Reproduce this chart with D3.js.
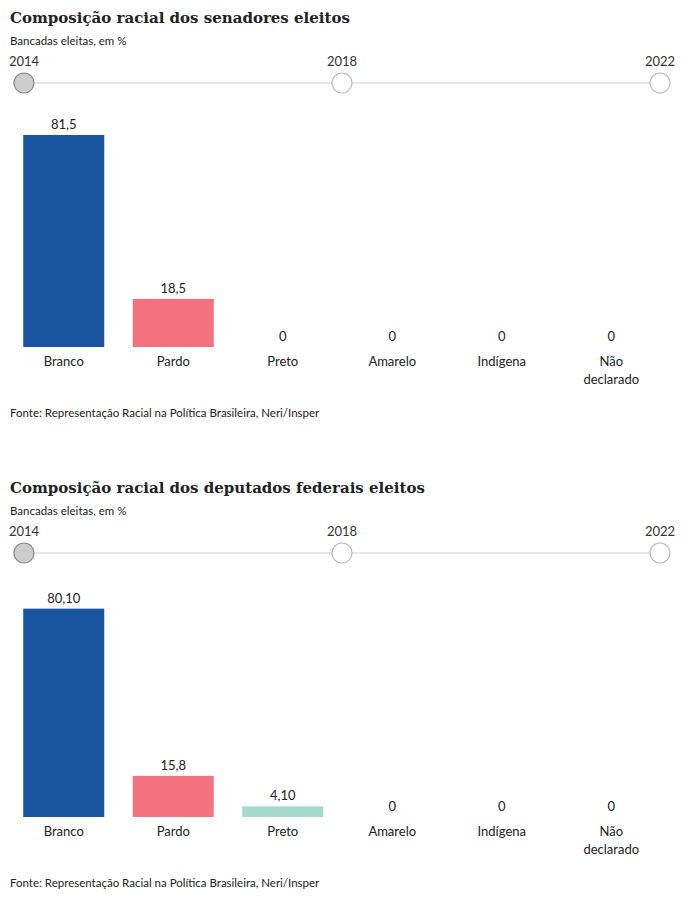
<!DOCTYPE html>
<html><head><meta charset="utf-8">
<script src="https://cdn.jsdelivr.net/npm/d3@7"></script>
<style>body{margin:0;background:#fff}</style>
</head><body>
<svg id="c" width="700" height="898"></svg>
<script>
var categories = ['Branco','Pardo','Preto','Amarelo','Indígena','Não declarado'];
var years = ['2014','2018','2022'];
var senadores = [81.5, 18.5, 0, 0, 0, 0];
var senadoresLabels = ['81,5','18,5','0','0','0','0'];
var deputados = [80.10, 15.8, 4.10, 0, 0, 0];
var deputadosLabels = ['80,10','15,8','4,10','0','0','0'];
var colors = ['#1a55a0','#f4717f','#a6d9cb','#ccc','#ccc','#ccc'];

var svg = d3.select('#c');
var font = 'Lato, "Open Sans", sans-serif';

function chart(top, title, vals, labels) {
  var g = svg.append('g').attr('transform','translate(0,'+top+')');
  g.append('text').attr('x',10).attr('y',23).text(title)
    .attr('font-family','"DejaVu Serif", serif').attr('font-weight','bold').attr('font-size',15).attr('fill','#222');
  g.append('text').attr('x',10).attr('y',45).text('Bancadas eleitas, em %')
    .attr('font-family',font).attr('font-size',11.5).attr('fill','#222');

  var tx = d3.scalePoint().domain(years).range([24,660]);
  g.append('line').attr('x1',24).attr('x2',660).attr('y1',83).attr('y2',83).attr('stroke','#ccc');
  g.selectAll('.yr').data(years).enter().append('text')
    .attr('x',function(d){return tx(d);}).attr('y',66).attr('text-anchor','middle')
    .attr('font-family',font).attr('font-size',13).attr('fill','#333').text(function(d){return d;});
  g.selectAll('.dot').data(years).enter().append('circle')
    .attr('cx',function(d){return tx(d);}).attr('cy',83).attr('r',10)
    .attr('fill',function(d,i){return i===0?'#ccc':'#fff';})
    .attr('stroke',function(d,i){return i===0?'#888':'#bbb';}).attr('stroke-width',1.2);

  var x = d3.scaleBand().domain(categories).range([9,666]).paddingInner(0.26).paddingOuter(0.13);
  var y = d3.scaleLinear().domain([0,81.5]).range([347,135]);
  g.selectAll('.bar').data(vals).enter().append('rect')
    .attr('x',function(d,i){return x(categories[i]);}).attr('width',x.bandwidth())
    .attr('y',function(d){return y(d);}).attr('height',function(d){return 347-y(d);})
    .attr('fill',function(d,i){return colors[i];});
  g.selectAll('.val').data(vals).enter().append('text')
    .attr('x',function(d,i){return x(categories[i])+x.bandwidth()/2;})
    .attr('y',function(d){return y(d)-6;}).attr('text-anchor','middle')
    .attr('font-family',font).attr('font-size',13).attr('fill','#222')
    .text(function(d,i){return labels[i];});
  categories.forEach(function(c,i){
    var t = g.append('text').attr('x',x(c)+x.bandwidth()/2).attr('y',366).attr('text-anchor','middle')
      .attr('font-family',font).attr('font-size',13).attr('fill','#222');
    var parts = c==='Não declarado' ? ['Não','declarado'] : [c];
    parts.forEach(function(p,j){ t.append('tspan').attr('x',x(c)+x.bandwidth()/2).attr('dy',j?18:0).text(p); });
  });
  g.append('text').attr('x',10).attr('y',417).text('Fonte: Representação Racial na Política Brasileira, Neri/Insper')
    .attr('font-family',font).attr('font-size',11.5).attr('fill','#222');
}
chart(0,'Composição racial dos senadores eleitos',senadores,senadoresLabels);
chart(470,'Composição racial dos deputados federais eleitos',deputados,deputadosLabels);
</script>
</body></html>
